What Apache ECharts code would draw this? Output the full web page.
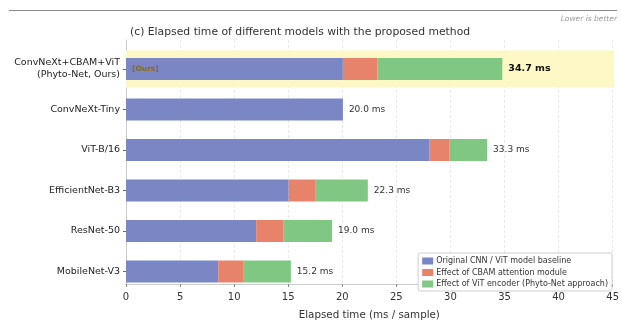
<!DOCTYPE html>
<html>
<head>
<meta charset="utf-8">
<script src="https://cdn.jsdelivr.net/npm/echarts@6/dist/echarts.min.js"></script>
<style>
  html, body { margin: 0; padding: 0; background: #fff; }
  #chart { width: 622px; height: 325px; }
</style>
</head>
<body>
<div id="chart"></div>
<script>
// Models, top to bottom
const models = [
  'ConvNeXt+CBAM+ViT\n(Phyto-Net, Ours)',
  'ConvNeXt-Tiny',
  'ViT-B/16',
  'EfficientNet-B3',
  'ResNet-50',
  'MobileNet-V3'
];
// Elapsed time components (ms / sample)
const baseline = [20.0, 20.0, 28.0, 15.0, 12.0, 8.5];
const cbamEffect = [3.2, 0, 1.8, 2.5, 2.5, 2.3];
const vitEffect = [11.5, 0, 3.5, 4.8, 4.5, 4.4];
const xTicks = [0, 5, 10, 15, 20, 25, 30, 35, 40, 45];
const seriesNames = [
  'Original CNN / ViT model baseline',
  'Effect of CBAM attention module',
  'Effect of ViT encoder (Phyto-Net approach)'
];
const oursIndex = 0;

const totals = baseline.map((b, i) => b + cbamEffect[i] + vitEffect[i]);
const xMin = xTicks[0];
const xMax = xTicks[xTicks.length - 1];
const xStep = xTicks[1] - xTicks[0];

const FONT = 'DejaVu Sans';
const colors = ['#7b87c4', '#e8836b', '#81c784'];

const chart = echarts.init(document.getElementById('chart'), null, { renderer: 'canvas' });

const highlight = models.map((m, i) => (i === oursIndex ? xMax : null));

const option = {
  animation: false,
  textStyle: { fontFamily: FONT },
  title: {
    text: '(c) Elapsed time of different models with the proposed method',
    left: 125,
    top: 22,
    textStyle: { fontFamily: FONT, fontSize: 10.8, fontWeight: 'normal', color: '#333' }
  },
  graphic: [
    {
      type: 'line',
      shape: { x1: 9, y1: 10.5, x2: 617, y2: 10.5 },
      style: { stroke: '#8a8a8a', lineWidth: 1 },
      silent: true
    },
    {
      type: 'text',
      right: 5,
      top: 15,
      style: {
        text: 'Lower is better',
        font: 'italic 7.5px "DejaVu Sans"',
        fill: '#9a9a9a'
      },
      silent: true
    }
  ],
  legend: {
    data: seriesNames,
    orient: 'vertical',
    right: 10,
    top: 253,
    itemWidth: 11,
    itemHeight: 7,
    itemGap: 3.5,
    padding: [4, 4, 3, 4],
    borderColor: '#cfcfcf',
    borderWidth: 1,
    borderRadius: 2,
    backgroundColor: '#fff',
    icon: 'rect',
    textStyle: { fontFamily: FONT, fontSize: 8, color: '#333', padding: [0, 0, 0, -2] }
  },
  grid: [
    // bars
    { left: 126, right: 8, top: 48.75, height: 243, containLabel: false },
    // frame, grid lines and ticks
    { left: 126, right: 8, top: 40, bottom: 32, containLabel: false }
  ],
  xAxis: [
    {
      gridIndex: 0, type: 'value', min: xMin, max: xMax, interval: xStep,
      show: false
    },
    {
      gridIndex: 1, type: 'value', min: xMin, max: xMax, interval: xStep,
      name: 'Elapsed time (ms / sample)',
      nameLocation: 'middle',
      nameGap: 26,
      nameTextStyle: { fontFamily: FONT, fontSize: 10.3, color: '#333' },
      axisLine: { show: true, lineStyle: { color: '#cccccc', width: 1 } },
      axisTick: { show: true, length: 3, lineStyle: { color: '#888' } },
      axisLabel: { fontFamily: FONT, fontSize: 10, color: '#333', margin: 8 },
      splitLine: { show: true, lineStyle: { color: '#e4e4e4', type: [3, 2], width: 0.8 } }
    }
  ],
  yAxis: [
    {
      gridIndex: 0, type: 'category', data: models, inverse: true,
      axisLine: { show: false },
      axisTick: { show: true, length: 3, alignWithLabel: true, lineStyle: { color: '#666' } },
      axisLabel: {
        fontFamily: FONT, fontSize: 9.5, color: '#222', margin: 6,
        lineHeight: 12, align: 'right'
      }
    },
    {
      gridIndex: 0, type: 'category', data: models, inverse: true, show: false
    },
    {
      gridIndex: 1, type: 'value', min: 0, max: 1,
      axisLine: { show: true, lineStyle: { color: '#cccccc', width: 1 } },
      axisTick: { show: false },
      axisLabel: { show: false },
      splitLine: { show: false }
    }
  ],
  series: [
    {
      type: 'bar',
      name: 'highlight',
      xAxisIndex: 0, yAxisIndex: 1,
      data: highlight,
      barWidth: 37,
      z: 1,
      silent: true,
      itemStyle: { color: '#fef8c6' }
    },
    {
      type: 'bar',
      name: seriesNames[0],
      xAxisIndex: 0, yAxisIndex: 0,
      stack: 'time',
      barWidth: 22,
      z: 3,
      itemStyle: { color: colors[0] },
      data: baseline.map((v, i) => i === oursIndex ? {
        value: v,
        label: {
          show: true, position: 'insideLeft', distance: 6,
          formatter: '[Ours]',
          fontFamily: FONT, fontSize: 7.5, fontWeight: 'bold', color: '#8a6a1c'
        }
      } : v)
    },
    {
      type: 'bar',
      name: seriesNames[1],
      xAxisIndex: 0, yAxisIndex: 0,
      stack: 'time',
      barWidth: 22,
      z: 3,
      itemStyle: { color: colors[1] },
      data: cbamEffect
    },
    {
      type: 'bar',
      name: seriesNames[2],
      xAxisIndex: 0, yAxisIndex: 0,
      stack: 'time',
      barWidth: 22,
      z: 3,
      itemStyle: { color: colors[2] },
      label: {
        show: true, position: 'right', distance: 6,
        fontFamily: FONT, fontSize: 9, color: '#333',
        formatter: p => totals[p.dataIndex].toFixed(1) + ' ms'
      },
      data: vitEffect.map((v, i) => i === oursIndex ? {
        value: v,
        label: { fontWeight: 'bold', fontSize: 9.5, color: '#111' }
      } : v)
    }
  ]
};

chart.setOption(option);
</script>
</body>
</html>
